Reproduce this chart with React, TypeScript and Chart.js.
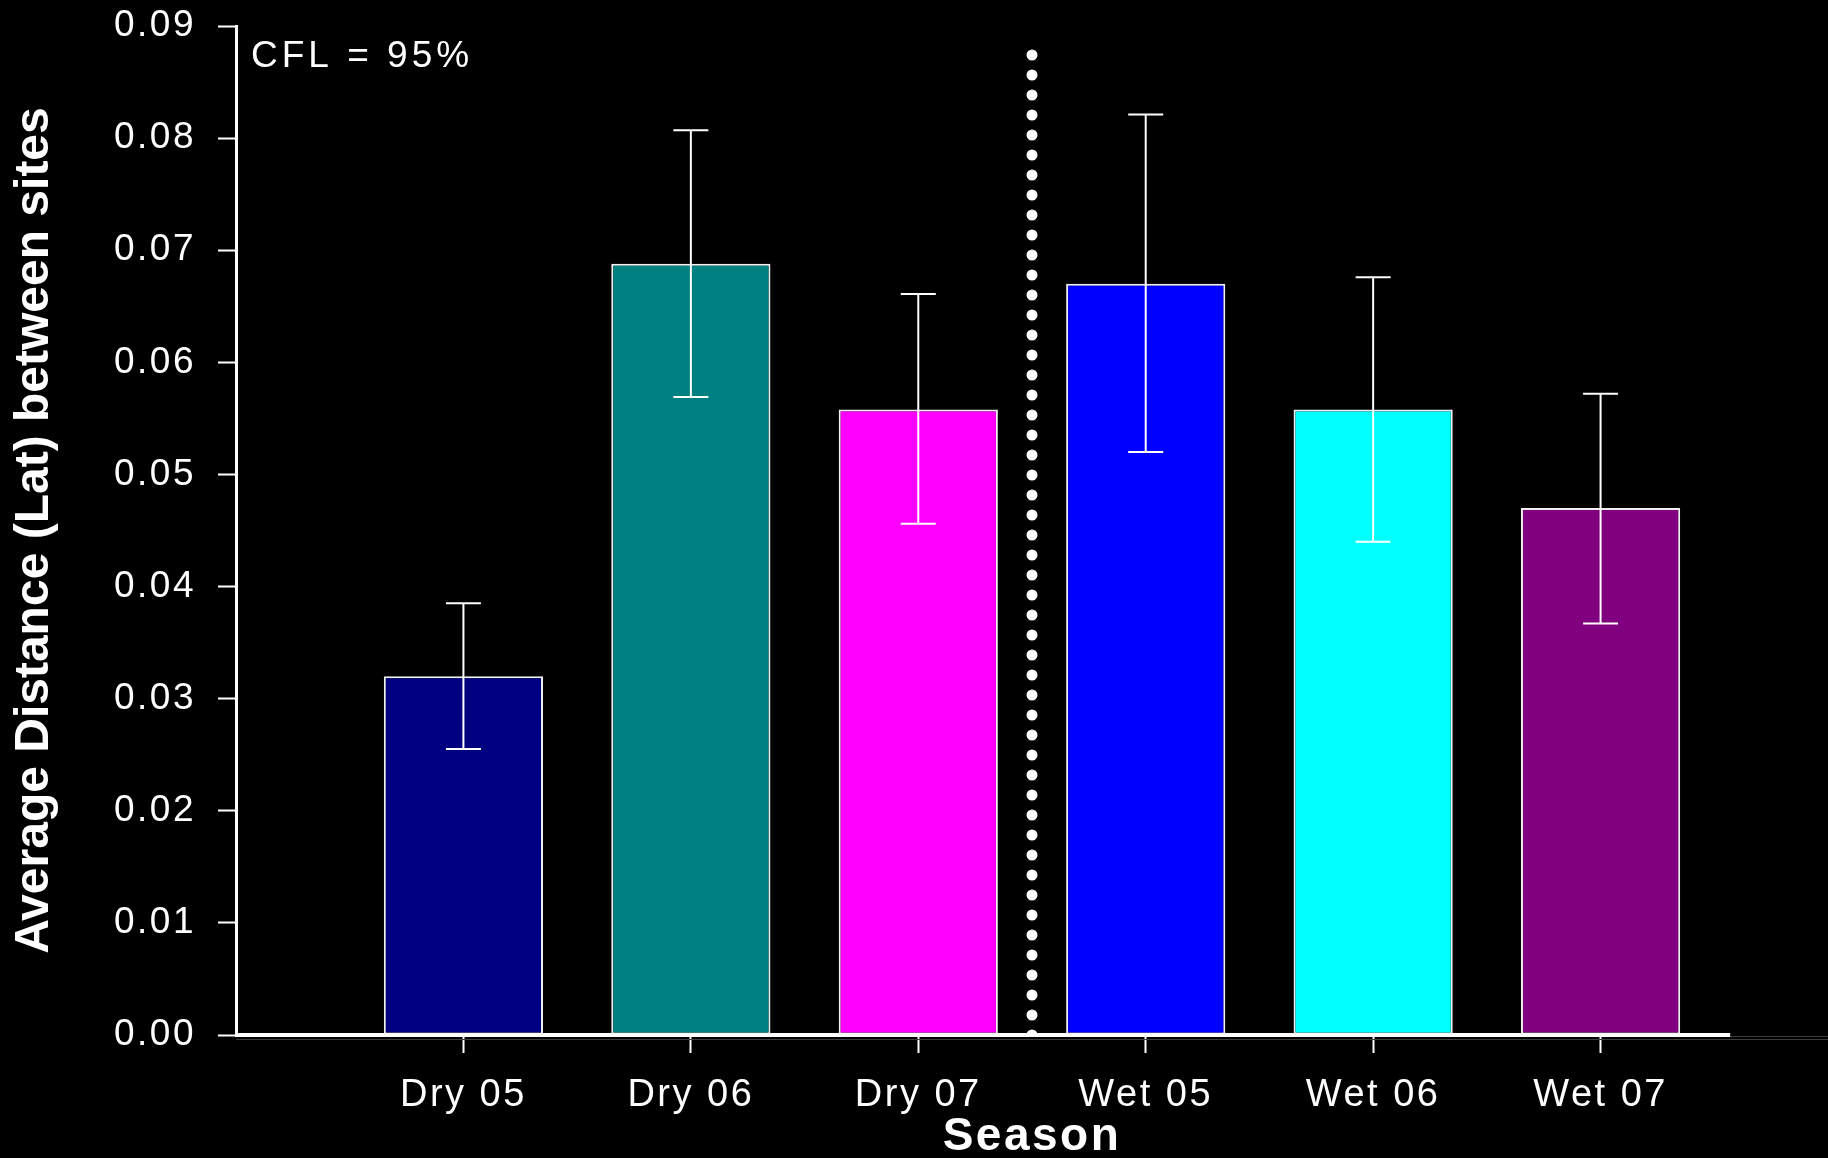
import React, { useEffect, useRef } from 'react';
import { Chart, registerables } from 'chart.js';

Chart.register(...registerables);

// ---- data ----
const categories = ['Dry 05', 'Dry 06', 'Dry 07', 'Wet 05', 'Wet 06', 'Wet 07'];
const means = [0.032, 0.0688, 0.0558, 0.067, 0.0558, 0.047];
const errHigh = [0.0385, 0.0807, 0.0661, 0.0821, 0.0676, 0.0572];
const errLow = [0.0255, 0.0569, 0.0456, 0.052, 0.044, 0.0367];
const yTickValues = [0, 0.01, 0.02, 0.03, 0.04, 0.05, 0.06, 0.07, 0.08, 0.09];
const barColors = ['#000080', '#008080', '#FF00FF', '#0000FF', '#00FFFF', '#800080'];
const dividerAt = 3.5;
const dividerTop = 0.0875;
const annotationText = 'CFL = 95%';
const yTitle = 'Average Distance (Lat) between sites';
const xTitle = 'Season';

// ---- layout / style constants ----
const FONT = '"Liberation Sans", Arial, Helvetica, sans-serif';
const X_MAX = 7;
const AXIS_END = 6.57;
const CAP_HALF = 17.5;

const stylePlugin = {
  id: 'stylePlugin',
  beforeDraw(chart: any) {
    const ctx = chart.ctx;
    ctx.save();
    ctx.fillStyle = '#000';
    ctx.fillRect(0, 0, chart.width, chart.height);
    ctx.restore();
    ctx.letterSpacing = '2.5px';
    const ys = chart.scales.y;
    if (ys && !ys.__patched) {
      const orig = ys.drawTitle;
      ys.drawTitle = function (...args: any[]) {
        const c = this.ctx;
        c.save();
        c.letterSpacing = '0px';
        orig.apply(this, args);
        c.restore();
      };
      ys.__patched = true;
    }
  },
  afterDatasetsDraw(chart: any) {
    const { ctx, scales: { x, y }, chartArea } = chart;
    const y0 = y.getPixelForValue(0);
    ctx.save();
    // axis line
    ctx.strokeStyle = '#3c3c3c';
    ctx.lineWidth = 1;
    ctx.beginPath();
    ctx.moveTo(x.getPixelForValue(AXIS_END), y0 + 1.5);
    ctx.lineTo(chartArea.right, y0 + 1.5);
    ctx.moveTo(chartArea.left, y0 + 4.5);
    ctx.lineTo(chartArea.right, y0 + 4.5);
    ctx.stroke();
    ctx.strokeStyle = '#fff';
    ctx.lineWidth = 4;
    ctx.beginPath();
    ctx.moveTo(chartArea.left - 1, y0);
    ctx.lineTo(x.getPixelForValue(AXIS_END), y0);
    ctx.stroke();
    // error bars
    ctx.lineWidth = 2;
    ctx.strokeStyle = '#fff';
    categories.forEach((_, i) => {
      const px = x.getPixelForValue(i + 1);
      const hi = y.getPixelForValue(errHigh[i]);
      const lo = y.getPixelForValue(errLow[i]);
      ctx.beginPath();
      ctx.moveTo(px, lo);
      ctx.lineTo(px, hi);
      ctx.moveTo(px - CAP_HALF, hi);
      ctx.lineTo(px + CAP_HALF, hi);
      ctx.moveTo(px - CAP_HALF, lo);
      ctx.lineTo(px + CAP_HALF, lo);
      ctx.stroke();
    });
    ctx.restore();
  },
  afterDraw(chart: any) {
    const { ctx, chartArea } = chart;
    ctx.save();
    ctx.letterSpacing = '4px';
    ctx.fillStyle = '#fff';
    ctx.font = `37px ${FONT}`;
    ctx.textAlign = 'left';
    ctx.textBaseline = 'alphabetic';
    ctx.fillText(annotationText, chartArea.left + 15, chartArea.top + 41);
    ctx.restore();
  },
};

export default function App() {
  const ref = useRef<HTMLCanvasElement | null>(null);

  useEffect(() => {
    if (!ref.current) return;
    const chart = new Chart(ref.current, {
      type: 'bar',
      data: {
        datasets: [
          {
            type: 'line',
            data: [
              { x: dividerAt, y: 0 },
              { x: dividerAt, y: dividerTop },
            ],
            borderColor: '#fff',
            borderWidth: 11,
            borderDash: [0, 20],
            borderCapStyle: 'round',
            pointRadius: 0,
            fill: false,
            order: 1,
          } as any,
          {
            type: 'bar',
            data: means.map((m, i) => ({ x: i + 1, y: m })),
            backgroundColor: barColors,
            borderColor: '#f0f0f0',
            borderWidth: 2,
            borderSkipped: false,
            barPercentage: 0.7,
            categoryPercentage: 1,
            order: 2,
          } as any,
        ],
      },
      options: {
        animation: false,
        responsive: false,
        devicePixelRatio: 1,
        layout: { padding: { top: 26, left: 0, right: 0, bottom: 0 } },
        plugins: { legend: { display: false }, tooltip: { enabled: false } },
        scales: {
          x: {
            type: 'linear',
            min: 0,
            max: X_MAX,
            offset: false,
            grid: {
              display: true,
              offset: false,
              drawOnChartArea: false,
              drawTicks: true,
              tickLength: 18,
              tickColor: '#fff',
              tickWidth: 2,
            },
            border: { display: false },
            afterBuildTicks: (s: any) => {
              s.ticks = categories.map((_, i) => ({ value: i + 1 }));
            },
            ticks: {
              color: '#fff',
              font: { family: FONT, size: 38 },
              padding: 20,
              maxRotation: 0,
              autoSkip: false,
              callback: (v: any) => categories[Math.round(Number(v)) - 1] ?? '',
            },
            title: {
              display: true,
              text: xTitle,
              color: '#fff',
              font: { family: FONT, size: 46, weight: 'bold', lineHeight: 0.88 },
              padding: { top: 0, bottom: 0 },
            },
            afterFit: (s: any) => {
              s.height = 123;
              s.paddingLeft = 0;
              s.paddingRight = 0;
            },
          } as any,
          y: {
            min: 0,
            max: 0.09,
            grid: {
              drawOnChartArea: false,
              tickLength: 18,
              tickColor: '#fff',
              tickWidth: 2,
            },
            border: { display: true, color: '#fff', width: 3 },
            afterBuildTicks: (s: any) => {
              s.ticks = yTickValues.map((v) => ({ value: v }));
            },
            ticks: {
              color: '#fff',
              font: { family: FONT, size: 37 },
              padding: 22,
              callback: (v: any) => Number(v).toFixed(2),
            },
            title: {
              display: true,
              text: yTitle,
              color: '#fff',
              font: { family: FONT, size: 48, weight: 'bold', lineHeight: 1 },
              padding: { top: 11, bottom: 0 },
            },
            afterFit: (s: any) => {
              s.width = 236;
              s.paddingTop = 0;
              s.paddingBottom = 0;
            },
          } as any,
        },
      },
      plugins: [stylePlugin],
    });
    return () => chart.destroy();
  }, []);

  return (
    <div style={{ position: 'fixed', left: 0, top: 0, width: 1828, height: 1158, background: '#000' }}>
      <canvas ref={ref} width={1828} height={1158} style={{ display: 'block' }} />
    </div>
  );
}
